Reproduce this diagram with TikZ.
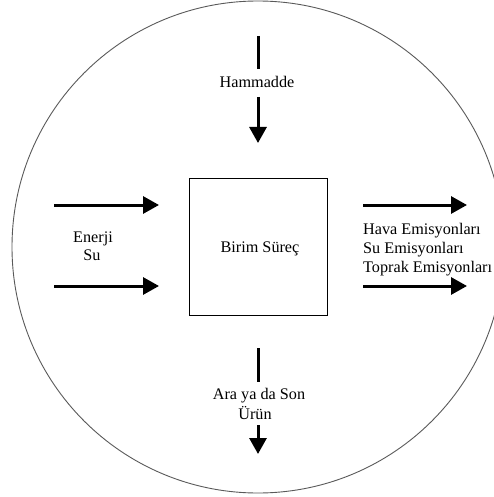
\documentclass[tikz,border=0pt]{standalone}
\usepackage{fontspec}
\setmainfont{Liberation Serif}
\usetikzlibrary{arrows.meta}
\begin{document}
\begin{tikzpicture}[x=1pt,y=-1pt,
  flow/.style={line width=3pt,-{Triangle[length=16pt,width=17pt]}},
  stub/.style={line width=3pt},
  lbl/.style={font=\fontsize{16.2}{19}\selectfont,inner sep=0pt},
  unit/.style={draw,line width=0.9pt,minimum width=138pt,minimum height=137pt,inner sep=0pt,font=\fontsize{16.2}{19}\selectfont}]
\useasboundingbox (0,0) rectangle (494,497);
% system boundary
\node[draw=black!65,line width=0.9pt,circle,minimum size=492pt,inner sep=0pt] (sys) at (258,247) {};
% unit process
\node[unit] (proc) at (258,246.5) {};
\node[lbl,anchor=base] (proclbl) at (260,252) {Birim Süreç};
% raw material input (top)
\coordinate (t1) at (258,36);
\coordinate (t2) at (258,69);
\node[lbl,anchor=base] (raw) at (257,88) {Hammadde};
\coordinate (t3) at (258,97);
\coordinate (t4) at (258,143);
\draw[stub] (t1) -- (t2);
\draw[flow] (t3) -- (t4);
% energy and water inputs (left)
\coordinate (l1a) at (54,205);
\coordinate (l1b) at (159,205);
\coordinate (l2a) at (54,286);
\coordinate (l2b) at (159,286);
\draw[flow] (l1a) -- (l1b);
\draw[flow] (l2a) -- (l2b);
\node[lbl,anchor=base] (en) at (93,242) {Enerji};
\node[lbl,anchor=base] (su) at (92,260) {Su};
% emissions (right)
\coordinate (r1a) at (363,205);
\coordinate (r1b) at (467,205);
\coordinate (r2a) at (363,286);
\coordinate (r2b) at (467,286);
\draw[flow] (r1a) -- (r1b);
\draw[flow] (r2a) -- (r2b);
\node[lbl,anchor=base west] (air) at (363,234) {Hava Emisyonları};
\node[lbl,anchor=base west] (wat) at (363,253) {Su Emisyonları};
\node[lbl,anchor=base west] (soil) at (363,272) {Toprak Emisyonları};
% product output (bottom)
\coordinate (b1) at (258,348);
\coordinate (b2) at (258,382);
\node[lbl,anchor=base] (prod) at (259,399) {Ara ya da Son};
\node[lbl,anchor=base] (prod2) at (255,419) {Ürün};
\coordinate (b3) at (258,425);
\coordinate (b4) at (258,454);
\draw[stub] (b1) -- (b2);
\draw[flow] (b3) -- (b4);
\end{tikzpicture}
\end{document}
